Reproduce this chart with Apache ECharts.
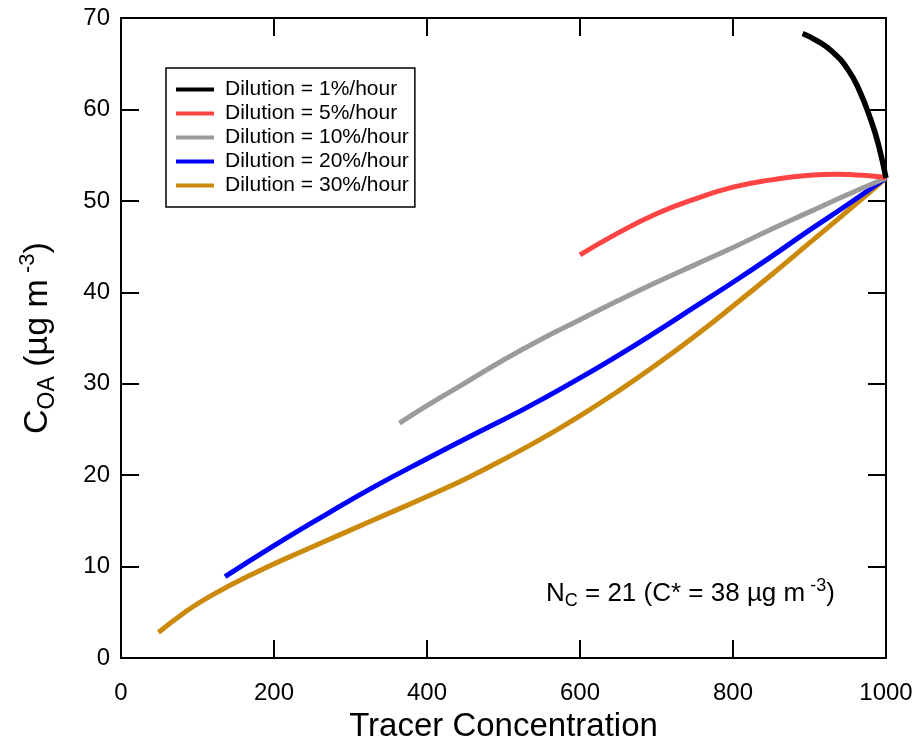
<!DOCTYPE html>
<html>
<head>
<meta charset="utf-8">
<script src="https://cdn.jsdelivr.net/npm/echarts@6/dist/echarts.min.js"></script>
<style>html,body{margin:0;padding:0;background:#fff;}#c{width:917px;height:748px;}</style>
</head>
<body>
<div id="c"></div>
<script>
// ---- data ----
const seriesNames = ['Dilution = 1%/hour', 'Dilution = 5%/hour', 'Dilution = 10%/hour', 'Dilution = 20%/hour', 'Dilution = 30%/hour'];
const xD1  = [891, 910, 930, 950, 965, 980, 990, 1000];
const yD1  = [68.3, 67.5, 66.3, 64.4, 62.1, 58.9, 56.2, 52.5];
const xD5  = [600, 650, 700, 750, 800, 850, 900, 935, 970, 1000];
const yD5  = [44.1, 46.5, 48.6, 50.2, 51.5, 52.3, 52.8, 52.9, 52.8, 52.55];
const xD10 = [364, 400, 450, 500, 550, 600, 650, 700, 750, 800, 850, 900, 950, 1000];
const yD10 = [25.7, 27.6, 30.1, 32.6, 34.9, 37.0, 39.1, 41.1, 43.0, 44.9, 46.9, 48.8, 50.7, 52.5];
const xD20 = [136, 200, 270, 330, 400, 460, 526, 591, 648, 700, 750, 800, 850, 900, 950, 1000];
const yD20 = [8.9, 12.3, 15.8, 18.7, 21.8, 24.4, 27.2, 30.2, 33.0, 35.7, 38.4, 41.1, 43.9, 46.8, 49.6, 52.5];
const xD30 = [49, 80, 115, 177, 243, 330, 417, 460, 504, 550, 600, 650, 700, 750, 800, 850, 900, 950, 1000];
const yD30 = [2.8, 4.8, 6.7, 9.4, 11.9, 15.1, 18.3, 20.0, 21.9, 24.0, 26.5, 29.2, 32.1, 35.2, 38.5, 41.9, 45.4, 48.9, 52.5];
const xTicks = [0, 200, 400, 600, 800, 1000];
const yTicks = [0, 10, 20, 30, 40, 50, 60, 70];

const colors = ['#000000', '#ff4444', '#9b9b9b', '#0000ff', '#cc8a0c'];
const xs = [xD1, xD5, xD10, xD20, xD30];
const ys = [yD1, yD5, yD10, yD20, yD30];
const widths = [5.5, 5, 5, 5, 5];

const font = 'Liberation Sans, Arial, sans-serif';
const chart = echarts.init(document.getElementById('c'), null, {renderer: 'canvas'});

function pairs(x, y) { return x.map((v, i) => [v, y[i]]); }

const tickCommon = {
  axisLine: {show: true, onZero: false, lineStyle: {color: '#000', width: 2}},
  axisTick: {show: true, inside: true, length: 18, lineStyle: {color: '#000', width: 2}},
  splitLine: {show: false}
};

const option = {
  animation: false,
  backgroundColor: '#fff',
  grid: {left: 121, right: 31, top: 18, bottom: 82, containLabel: false},
  legend: {
    orient: 'vertical', left: 166, top: 68,
    padding: [11, 6, 11, 10],
    icon: 'rect', itemWidth: 38, itemHeight: 4, itemGap: 3,
    borderColor: '#000', borderWidth: 1.5,
    textStyle: {fontFamily: font, fontSize: 21, lineHeight: 21, color: '#000', padding: [0, 0, 0, 6]},
    data: seriesNames
  },
  xAxis: [
    Object.assign({
      type: 'value', position: 'bottom', min: xTicks[0], max: xTicks[xTicks.length - 1], interval: 200,
      name: 'Tracer Concentration', nameLocation: 'middle', nameGap: 46,
      nameTextStyle: {fontFamily: font, fontSize: 33, color: '#000'},
      axisLabel: {fontFamily: font, fontSize: 24, color: '#000', margin: 23, formatter: v => String(v)}
    }, tickCommon),
    Object.assign({
      type: 'value', position: 'top', min: xTicks[0], max: xTicks[xTicks.length - 1], interval: 200,
      axisLabel: {show: false}
    }, tickCommon)
  ],
  yAxis: [
    Object.assign({
      type: 'value', position: 'left', min: yTicks[0], max: yTicks[yTicks.length - 1], interval: 10,
      name: '{m|C}{sub|OA}{m| (µg m}{sup| -3}{m|)}', nameLocation: 'middle', nameGap: 62, nameRotate: 90,
      nameTextStyle: {
        fontFamily: font, color: '#000',
        rich: {
          m: {fontFamily: font, fontSize: 34, lineHeight: 42, color: '#000'},
          sub: {fontFamily: font, fontSize: 23, lineHeight: 23, verticalAlign: 'bottom', color: '#000'},
          sup: {fontFamily: font, fontSize: 22, lineHeight: 22, verticalAlign: 'top', color: '#000'}
        }
      },
      axisLabel: {fontFamily: font, fontSize: 24, color: '#000', margin: 11}
    }, tickCommon),
    Object.assign({
      type: 'value', position: 'right', min: yTicks[0], max: yTicks[yTicks.length - 1], interval: 10,
      axisLabel: {show: false}
    }, tickCommon)
  ],
  graphic: [{
    type: 'text', left: 546, top: 577,
    style: {
      text: '{m|N}{sub|C}{m| = 21 (C* = 38 µg m}{sup| -3}{m|)}',
      rich: {
        m: {fontFamily: font, fontSize: 26, lineHeight: 33, fill: '#000'},
        sub: {fontFamily: font, fontSize: 18, lineHeight: 18, verticalAlign: 'bottom', fill: '#000'},
        sup: {fontFamily: font, fontSize: 18, lineHeight: 18, verticalAlign: 'top', fill: '#000'}
      }
    }
  }],
  series: seriesNames.map((n, i) => ({
    name: n, type: 'line', xAxisIndex: 0, yAxisIndex: 0,
    data: pairs(xs[i], ys[i]),
    smooth: 0.5, symbol: 'none', showSymbol: false,
    lineStyle: {color: colors[i], width: widths[i], cap: 'butt'},
    itemStyle: {color: colors[i]},
    z: 10 - i
  }))
};
chart.setOption(option);
</script>
</body>
</html>
